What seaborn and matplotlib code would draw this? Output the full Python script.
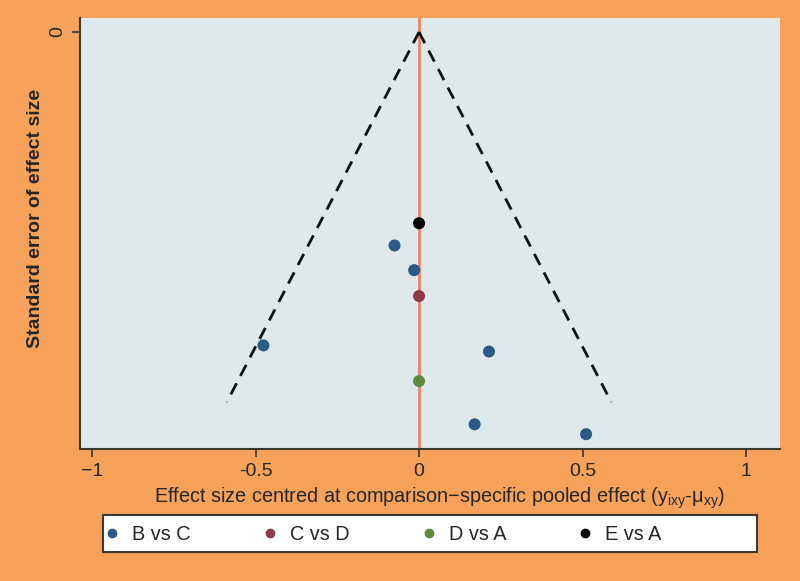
import numpy as np
import pandas as pd
import matplotlib
matplotlib.use("Agg")
import matplotlib.pyplot as plt
from matplotlib.patches import Rectangle
import seaborn as sns

# Data
comparison = ["E vs A", "B vs C", "B vs C", "C vs D", "B vs C", "B vs C", "D vs A", "B vs C", "B vs C"]
effect_centred = [0.0, -0.075, -0.015, 0.0, -0.476, 0.214, 0.0, 0.170, 0.511]
std_error = [0.155, 0.173, 0.193, 0.214, 0.254, 0.259, 0.283, 0.318, 0.326]
legend_order = ["B vs C", "C vs D", "D vs A", "E vs A"]
colors = ["#2B5A87", "#8E3B4A", "#5D8A3F", "#000000"]
funnel_se = [0.0, 0.30]
x_ticks = [-1, -0.5, 0, 0.5, 1]
x_tick_labels = ["\u22121", "-0.5", "0", "0.5", "1"]

df = pd.DataFrame({"comparison": comparison, "x": effect_centred, "se": std_error})

sns.set_theme(style="white")
plt.rcParams["font.family"] = ["Liberation Sans", "DejaVu Sans"]

W, H = 800, 581
fig = plt.figure(figsize=(8, 5.81), dpi=100)
fig.patch.set_facecolor("#F6A25A")
ax = fig.add_axes([80 / W, 1 - 449 / H, 700 / W, (449 - 18) / H])
ax.set_facecolor("#DFE9EC")

# funnel
se_arr = np.array(funnel_se)
ax.plot(-1.96 * se_arr, se_arr, ls=(0, (4.5, 3)), color="#111111", lw=2, zorder=2)
ax.plot(1.96 * se_arr, se_arr, ls=(0, (4.5, 3)), color="#111111", lw=2, zorder=2)
ax.axvline(0, color="#EE8266", lw=2, zorder=1)

sns.scatterplot(data=df, x="x", y="se", hue="comparison", hue_order=legend_order,
                palette=colors, s=75, edgecolor="none", ax=ax, zorder=3, legend=False)

ax.set_xlim(-1.037, 1.104)
ax.set_ylim(0.338, -0.0114)
ax.set_xticks(x_ticks)
ax.set_xticklabels(x_tick_labels, fontsize=14)
ax.set_yticks([0])
ax.set_yticklabels(["0"], fontsize=14, rotation=90, va="center")
ax.tick_params(axis="both", direction="out", length=6, width=1.2, color="#333333",
               bottom=True, left=True, pad=4)
for s in ["top", "right"]:
    ax.spines[s].set_visible(False)
for s in ["left", "bottom"]:
    ax.spines[s].set_color("#3a3a30")
    ax.spines[s].set_linewidth(1.5)

ax.set_xlabel("Effect size centred at comparison\u2212specific pooled effect (y$_{\\mathregular{ixy}}$-\u03bc$_{\\mathregular{xy}}$)",
              fontsize=14.3)
ax.xaxis.set_label_coords(0.5136, -0.085)
ax.set_ylabel("Standard error of effect size", fontsize=14, fontweight="bold")
ax.yaxis.set_label_coords(-0.052, 0.535)

# legend box
fig.patches.append(Rectangle((103 / W, 1 - 552 / H), 654 / W, 37 / H, transform=fig.transFigure,
                             facecolor="white", edgecolor="#3a3a30", linewidth=1.5, zorder=0))
handles = [plt.Line2D([], [], marker="o", ls="", color=c, markersize=6) for c in colors]
leg = fig.legend(handles, legend_order, loc="center left", ncol=4,
                 bbox_to_anchor=(103 / W, 1 - 534 / H),
                 frameon=False, fontsize=14.3, handletextpad=0.7,
                 borderaxespad=0, handlelength=0.6, borderpad=0.15, columnspacing=3.7)

fig.savefig("out.png", dpi=100, facecolor=fig.get_facecolor())
